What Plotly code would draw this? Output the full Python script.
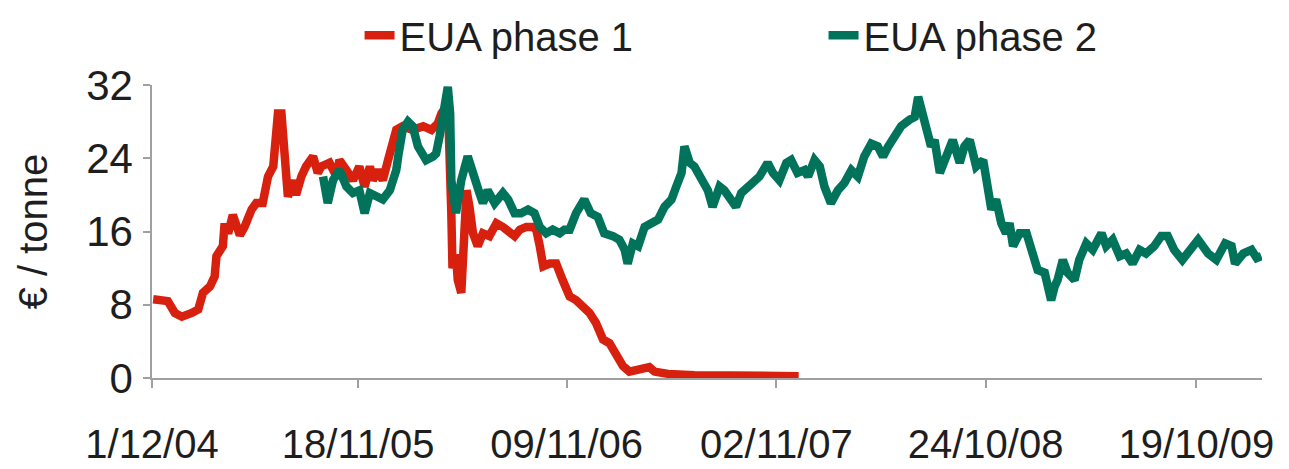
import plotly.graph_objects as go

# ---- data ----
phase1_dates = [
    "2004-12-03", "2004-12-10", "2004-12-18", "2004-12-28", "2005-01-09", "2005-01-21",
    "2005-02-07", "2005-02-18", "2005-02-26", "2005-03-10", "2005-03-18", "2005-03-21",
    "2005-04-01", "2005-04-04", "2005-04-10", "2005-04-18", "2005-04-30", "2005-05-08",
    "2005-05-20", "2005-05-28", "2005-06-08", "2005-06-17", "2005-06-26", "2005-07-04",
    "2005-07-10", "2005-07-18", "2005-07-21", "2005-07-30", "2005-08-04", "2005-08-13",
    "2005-08-21", "2005-09-02", "2005-09-10", "2005-09-16", "2005-09-30", "2005-10-12",
    "2005-10-17", "2005-10-29", "2005-11-09", "2005-11-20", "2005-11-29", "2005-12-08",
    "2005-12-13", "2005-12-22", "2005-12-30", "2006-01-08", "2006-01-16", "2006-01-22",
    "2006-02-02", "2006-02-19", "2006-03-09", "2006-03-23", "2006-04-03", "2006-04-09",
    "2006-04-17", "2006-04-20", "2006-04-26", "2006-04-28", "2006-05-04", "2006-05-07",
    "2006-05-13", "2006-05-16", "2006-05-22", "2006-05-27", "2006-06-02", "2006-06-10",
    "2006-06-19", "2006-06-30", "2006-07-12", "2006-07-23", "2006-08-03", "2006-08-12",
    "2006-08-21", "2006-09-01", "2006-09-12", "2006-09-18", "2006-09-24", "2006-09-30",
    "2006-10-11", "2006-10-22", "2006-11-02", "2006-11-14", "2006-11-25", "2006-12-07",
    "2006-12-18", "2006-12-29", "2007-01-10", "2007-01-21", "2007-02-02", "2007-02-13",
    "2007-02-24", "2007-03-14", "2007-03-30", "2007-04-08", "2007-05-01", "2007-06-15",
    "2007-08-11", "2007-09-26", "2007-12-10",
]
phase1_values = [
    8.6, 8.5, 8.4, 8.4, 7.1, 6.7,
    7.1, 7.5, 9.3, 10.0, 11.1, 13.3,
    14.4, 16.9, 15.8, 17.8, 15.6, 16.5,
    18.4, 19.1, 19.1, 22.0, 23.1, 28.9,
    28.9, 23.8, 19.8, 21.6, 20.0, 22.0,
    23.1, 24.2, 22.4, 23.1, 23.5, 22.0,
    23.8, 22.7, 21.6, 23.1, 20.9, 23.1,
    21.6, 22.7, 21.6, 23.8, 26.0, 27.1,
    27.5, 27.1, 27.5, 27.1, 27.8, 28.9,
    29.6, 30.5, 18.0, 12.0, 13.5, 10.7,
    9.3, 12.2, 20.5, 18.7, 15.8, 14.4,
    15.8, 15.5, 16.9, 16.5, 15.8, 15.5,
    16.2, 16.5, 16.5, 16.2, 14.4, 12.2,
    12.5, 12.5, 10.7, 8.9, 8.5, 7.8,
    7.1, 6.0, 4.2, 3.8, 2.4, 1.3,
    0.7, 1.0, 1.2, 0.7, 0.45, 0.3,
    0.25, 0.2, 0.2,
]

phase2_dates = [
    "2005-09-19", "2005-09-27", "2005-10-06", "2005-10-17", "2005-10-29", "2005-11-09",
    "2005-11-20", "2005-11-29", "2005-12-08", "2005-12-19", "2005-12-30", "2006-01-11",
    "2006-01-22", "2006-01-26", "2006-02-02", "2006-02-11", "2006-02-19", "2006-02-28",
    "2006-03-14", "2006-03-26", "2006-03-31", "2006-04-06", "2006-04-14", "2006-04-20",
    "2006-04-24", "2006-04-26", "2006-05-04", "2006-05-13", "2006-05-24", "2006-06-02",
    "2006-06-13", "2006-06-19", "2006-06-27", "2006-07-09", "2006-07-23", "2006-08-01",
    "2006-08-12", "2006-08-23", "2006-09-04", "2006-09-15", "2006-09-24", "2006-10-05",
    "2006-10-16", "2006-10-28", "2006-11-05", "2006-11-14", "2006-11-25", "2006-12-09",
    "2006-12-20", "2007-01-01", "2007-01-12", "2007-01-27", "2007-02-07", "2007-02-16",
    "2007-02-21", "2007-03-02", "2007-03-11", "2007-03-22", "2007-04-02", "2007-04-14",
    "2007-04-25", "2007-05-07", "2007-05-15", "2007-05-24", "2007-05-29", "2007-06-07",
    "2007-06-15", "2007-06-27", "2007-07-08", "2007-07-16", "2007-07-28", "2007-08-05",
    "2007-08-17", "2007-08-25", "2007-09-03", "2007-09-14", "2007-09-20", "2007-09-26",
    "2007-10-04", "2007-10-18", "2007-10-27", "2007-11-07", "2007-11-19", "2007-11-27",
    "2007-12-08", "2007-12-20", "2007-12-26", "2008-01-06", "2008-01-15", "2008-01-23",
    "2008-02-03", "2008-02-15", "2008-02-26", "2008-03-09", "2008-03-20", "2008-03-31",
    "2008-04-12", "2008-04-23", "2008-05-02", "2008-05-11", "2008-05-22", "2008-06-02",
    "2008-06-16", "2008-06-25", "2008-07-01", "2008-07-09", "2008-07-18", "2008-07-23",
    "2008-07-29", "2008-08-07", "2008-08-18", "2008-08-29", "2008-09-10", "2008-09-18",
    "2008-09-27", "2008-10-08", "2008-10-20", "2008-10-28", "2008-11-03", "2008-11-11",
    "2008-11-20", "2008-11-28", "2008-12-04", "2008-12-10", "2008-12-21", "2009-01-02",
    "2009-01-13", "2009-01-21", "2009-02-02", "2009-02-13", "2009-02-19", "2009-02-24",
    "2009-03-05", "2009-03-13", "2009-03-25", "2009-04-02", "2009-04-14", "2009-04-25",
    "2009-05-10", "2009-05-18", "2009-05-29", "2009-06-10", "2009-06-21", "2009-07-02",
    "2009-07-14", "2009-07-25", "2009-08-08", "2009-08-20", "2009-08-31", "2009-09-11",
    "2009-09-25", "2009-10-10", "2009-10-22", "2009-11-08", "2009-11-22", "2009-12-07",
    "2009-12-18", "2009-12-24", "2010-01-07", "2010-01-21", "2010-01-30", "2010-02-07",
]
phase2_values = [
    22.0, 19.1, 21.6, 22.7, 20.9, 20.2,
    20.5, 18.0, 20.2, 19.8, 19.5, 20.5,
    22.7, 24.5, 27.1, 28.0, 27.5, 25.3,
    23.8, 24.2, 24.5, 26.4, 29.3, 31.8,
    28.9, 21.6, 18.0, 21.6, 24.2, 22.0,
    20.2, 19.1, 20.5, 19.1, 20.2, 19.5,
    18.0, 18.0, 18.4, 18.0, 16.5, 15.8,
    16.2, 15.8, 16.2, 16.2, 18.0, 19.5,
    18.0, 17.6, 15.8, 15.5, 15.1, 14.0,
    12.5, 14.7, 14.4, 16.5, 17.0, 17.3,
    18.7, 19.5, 20.9, 22.4, 25.3, 23.5,
    23.1, 21.6, 20.5, 18.7, 20.9, 20.5,
    19.5, 18.7, 20.2, 20.9, 21.3, 21.6,
    22.0, 23.5, 22.4, 21.6, 23.5, 23.8,
    22.4, 22.7, 22.0, 23.8, 23.1, 20.9,
    19.1, 20.5, 21.3, 22.7, 22.0, 24.2,
    25.6, 25.3, 24.2, 25.3, 26.4, 27.5,
    28.2, 28.5, 30.7, 28.5, 26.7, 25.3,
    26.0, 22.4, 24.2, 26.0, 23.5, 25.3,
    26.0, 23.1, 23.8, 20.2, 18.4, 19.5,
    16.9, 15.8, 16.9, 14.4, 15.8, 15.8,
    13.3, 11.8, 11.5, 8.5, 10.0, 10.7,
    12.9, 11.5, 10.7, 12.9, 14.7, 14.0,
    15.8, 14.4, 15.1, 13.3, 13.6, 12.5,
    14.0, 13.6, 14.4, 15.5, 15.5, 14.0,
    12.9, 14.0, 15.1, 13.6, 12.9, 14.7,
    14.4, 12.5, 13.6, 14.0, 13.1, 13.3,
]

tick_dates = ["2004-12-01", "2005-11-18", "2006-11-09", "2007-11-02", "2008-10-24", "2009-10-19"]
tick_labels = ["1/12/04", "18/11/05", "09/11/06", "02/11/07", "24/10/08", "19/10/09"]
y_ticks = [0, 8, 16, 24, 32]

series_names = ["EUA phase 1", "EUA phase 2"]
series_colors = ["#d8200f", "#00735a"]

FONT = "Liberation Sans, Arial, sans-serif"
FS = 40
TEXT = "#1e1e1e"
AXIS = "#a0a0a0"

fig = go.Figure()
fig.add_trace(go.Scatter(x=phase1_dates, y=phase1_values, mode="lines", name=series_names[0],
                         legend="legend",
                         line=dict(color=series_colors[0], width=8.5)))
fig.add_trace(go.Scatter(x=phase2_dates, y=phase2_values, mode="lines", name=series_names[1],
                         legend="legend2",
                         line=dict(color=series_colors[1], width=8.5)))

legend_common = dict(orientation="h", yanchor="middle", y=1.17, xanchor="left",
                     font=dict(family=FONT, size=FS, color=TEXT),
                     bgcolor="rgba(0,0,0,0)", borderwidth=0, itemwidth=30)

# the page body adds an 8px offset, so the figure is drawn 8px smaller than the window
fig.update_layout(
    width=1281, height=461,
    margin=dict(l=144, r=27, t=77, b=91, autoexpand=False),
    paper_bgcolor="white", plot_bgcolor="white",
    font=dict(family=FONT, size=FS, color=TEXT),
    showlegend=True,
    legend=dict(x=0.187, **legend_common),
    legend2=dict(x=0.605, **legend_common),
    xaxis=dict(type="date", range=["2004-12-01", "2010-02-08"], automargin=False,
               tickmode="array", tickvals=tick_dates, ticktext=tick_labels,
               showgrid=False, zeroline=False, showline=True, linecolor=AXIS, linewidth=1.5,
               ticks="outside", ticklen=8, tickcolor=AXIS, tickwidth=1.5,
               ticklabelstandoff=22,
               tickfont=dict(family=FONT, size=FS, color=TEXT)),
    yaxis=dict(range=[0, 32], tickmode="array", tickvals=y_ticks, automargin=False,
               showgrid=False, zeroline=False, showline=True, linecolor=AXIS, linewidth=1.5,
               ticks="outside", ticklen=7, tickcolor=AXIS, tickwidth=1.5,
               ticklabelstandoff=2,
               tickfont=dict(family=FONT, size=42, color=TEXT),
               title=dict(text="€ / tonne", font=dict(family=FONT, size=FS, color=TEXT), standoff=26)),
)

fig.write_html("out.html")
